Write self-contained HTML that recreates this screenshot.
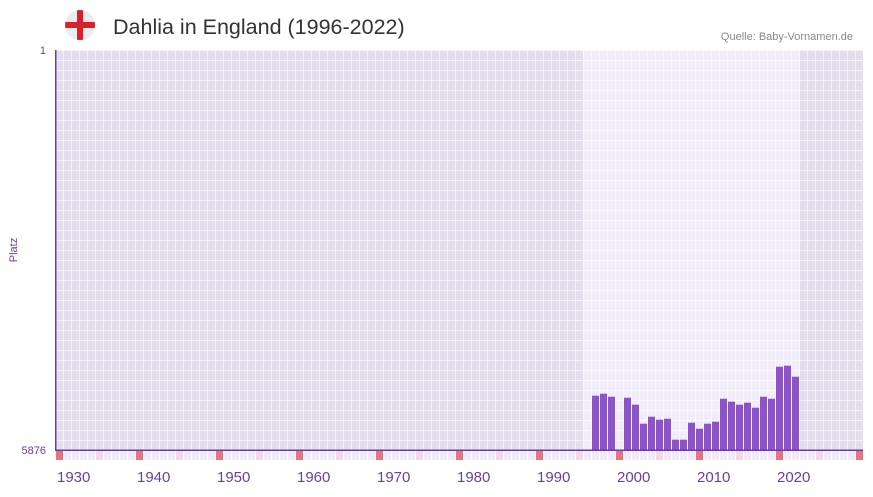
<!DOCTYPE html><html><head><meta charset="utf-8"><style>
body{margin:0;background:#fff;width:873px;height:492px;overflow:hidden;font-family:"Liberation Sans",sans-serif}
</style></head><body>
<svg id="s" width="873" height="492" xmlns="http://www.w3.org/2000/svg" font-family="Liberation Sans, sans-serif">
<defs>
<pattern id="g" x="55" y="50" width="8" height="10" patternUnits="userSpaceOnUse">
<rect x="0" y="0" width="8" height="1" fill="#fff" fill-opacity="0.65"/>
<rect x="0" y="0" width="1" height="10" fill="#fff" fill-opacity="0.65"/>
</pattern>
<clipPath id="c"><circle cx="80" cy="25" r="15"/></clipPath>
</defs>
<circle cx="80" cy="25" r="15" fill="#ececec"/>
<g clip-path="url(#c)"><rect x="77" y="10" width="6" height="30" fill="#d9212b"/><rect x="65" y="22" width="30" height="6" fill="#d9212b"/></g>
<text x="113" y="34" font-size="21.5" fill="#333">Dahlia in England (1996-2022)</text>
<text x="853" y="40" font-size="11" fill="#888" text-anchor="end">Quelle: Baby-Vornamen.de</text>
<rect x="55" y="50" width="808" height="400" fill="#e3deed"/>
<rect x="583" y="50" width="217" height="400" fill="#f0ecfa"/>
<rect x="55" y="50" width="808" height="400" fill="url(#g)"/>
<g id="bars" fill="#8b55c8"></g>
<g id="strip"></g>
<rect x="55" y="50" width="1.5" height="400" fill="#6a3fa0"/>
<rect x="55" y="449.5" width="808" height="1.5" fill="#6a3fa0"/>
<text x="46" y="54" font-size="11" fill="#6a3fa0" text-anchor="end">1</text>
<text x="46" y="454" font-size="11" fill="#6a3fa0" text-anchor="end">5876</text>
<text transform="translate(17,250) rotate(-90)" font-size="11" fill="#6a3fa0" text-anchor="middle">Platz</text>
<g id="xl" font-size="15" fill="#6a3fa0"></g>
</svg>
<script>
var NS="http://www.w3.org/2000/svg";
function r(p,x,y,w,h,f){var e=document.createElementNS(NS,"rect");e.setAttribute("x",x);e.setAttribute("y",y);e.setAttribute("width",w);e.setAttribute("height",h);if(f)e.setAttribute("fill",f);document.getElementById(p).appendChild(e);}
var tops={1995:395.7,1996:393.7,1997:396.7};
var t=[397.7,404.7,423.7,416.7,419.7,418.7,439.7,439.7,422.7,428.7,423.7,421.7,398.7,401.7,404.7,402.7,407.7,396.7,398.7,366.7,365.7,376.7];
for(var i=0;i<t.length;i++)tops[1999+i]=t[i];
for(var y in tops){var x=55+(y-1928)*8+1;r("bars",x,tops[y],7,450-tops[y]);}
for(var k=0;k<101;k++){var yr=1928+k,c="#efeafa";if(yr%10==8)c="#e8737c";else if(yr%10==3)c="#f5d8e2";r("strip",56+k*8,451,7,9,c);}
for(var d=1930;d<=2020;d+=10){var e=document.createElementNS(NS,"text");e.setAttribute("x",55+(d-1930)*8+2);e.setAttribute("y",482);e.textContent=d;document.getElementById("xl").appendChild(e);}
</script>
</body></html>
